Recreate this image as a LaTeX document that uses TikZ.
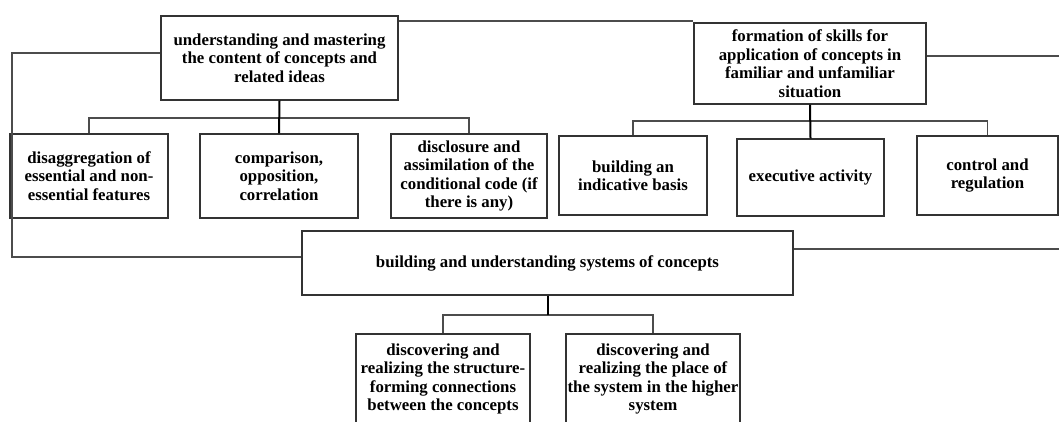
\documentclass[tikz,border=0pt]{standalone}
\usepackage{fontspec}
\setmainfont{Liberation Serif}
\newcommand\boxfont{\bfseries\fontsize{16.8}{18.5}\selectfont}
\begin{document}
\begin{tikzpicture}[x=1pt,y=-1pt,
  box/.style={draw=black!80, line width=1.4pt, align=center, inner sep=1pt, font=\boxfont},
  conn/.style={draw=black!70, line width=1.3pt},
  stem/.style={draw=black, line width=2pt}]
\useasboundingbox (0,0) rectangle (1059,421);
% top row
\node[box, minimum width=237pt, minimum height=84pt] (A) at (279.5,58)
  {understanding and mastering\\the content of concepts and\\related ideas};
\node[box, minimum width=232pt, minimum height=81pt] (B) at (810,63.5)
  {formation of skills for\\application of concepts in\\familiar and unfamiliar\\situation};
% second row
\node[box, minimum width=158pt, minimum height=84pt] (C1) at (89,176)
  {disaggregation of\\essential and non-\\essential features};
\node[box, minimum width=158pt, minimum height=84pt] (C2) at (279,176)
  {comparison,\\opposition,\\correlation};
\node[box, minimum width=156pt, minimum height=84pt] (C3) at (469,176)
  {disclosure and\\assimilation of the\\conditional code (if\\there is any)};
\node[box, minimum width=148pt, minimum height=79pt] (D1) at (633,175.5)
  {building an\\indicative basis};
\node[box, minimum width=147pt, minimum height=77pt] (D2) at (810.5,177.5)
  {executive activity};
\node[box, minimum width=141pt, minimum height=79pt] (D3) at (987.5,175.5)
  {control and\\regulation};
% third row
\node[box, minimum width=491pt, minimum height=64pt] (E) at (547.5,263)
  {building and understanding systems of concepts};
% bottom row
\node[box, inner xsep=0pt, minimum width=174pt, minimum height=90pt] (F1) at (443,379)
  {discovering and\\realizing the structure-\\forming connections\\between the concepts};
\node[box, inner xsep=0pt, minimum width=174pt, minimum height=90pt] (F2) at (653,379)
  {discovering and\\realizing the place of\\the system in the higher\\system};
% levels
\coordinate (lv1) at (0,21);
\coordinate (lvL) at (0,53);
\coordinate (lvR) at (0,56);
\coordinate (bus1) at (0,118);
\coordinate (bus2) at (0,121);
\coordinate (lvE) at (0,257);
\coordinate (lvE2) at (0,249);
\coordinate (bus3) at (0,315);
\coordinate (lt) at (12,257);
\coordinate (rt) at (1063,249);
% connectors
\draw[conn] (A.east |- lv1) -- (B.west |- lv1);
\draw[conn] (A.west |- lvL) -| (lt) -- (E.west |- lvE);
\draw[conn] (B.east |- lvR) -| (rt) -- (E.east |- lvE2);
\draw[conn] (C1.north) |- (A.south |- bus1) -| (C3.north);
\draw[stem] (A.south) -- (C2.north);
\draw[conn] (D1.north) |- (B.south |- bus2) -| (D3.north);
\draw[stem] (B.south) -- (D2.north);
\draw[conn] (F1.north) |- (E.south |- bus3) -| (F2.north);
\draw[stem] (E.south) -- (E.south |- bus3);
\end{tikzpicture}
\end{document}
